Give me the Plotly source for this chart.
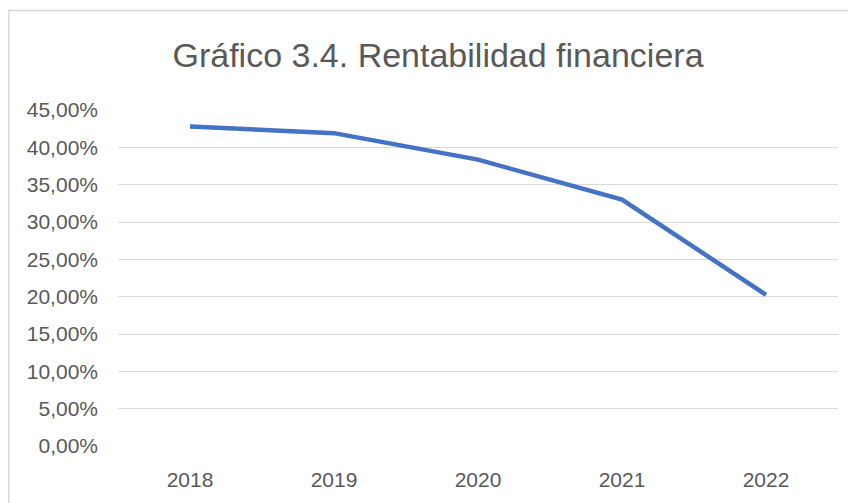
import plotly.graph_objects as go

years = ["2018", "2019", "2020", "2021", "2022"]
rentabilidad = [0.4280, 0.4190, 0.3835, 0.3300, 0.2025]
y_ticks = [0, 0.05, 0.10, 0.15, 0.20, 0.25, 0.30, 0.35, 0.40, 0.45]
title_text = "Gráfico 3.4. Rentabilidad financiera"

# page has an 8px body margin, so the figure is drawn 8px smaller
W, H = 848, 495
L, R, T, B = 110, 18, 102, 55

fig = go.Figure()
fig.add_trace(go.Scatter(
    x=years, y=rentabilidad, mode="lines",
    line=dict(color="#4472C4", width=4.5),
    hoverinfo="skip", showlegend=False,
))

txt = "#595959"
font_family = "Liberation Sans, Arial, sans-serif"

fig.update_layout(
    width=W, height=H,
    margin=dict(l=L, r=R, t=T, b=B),
    paper_bgcolor="white", plot_bgcolor="white",
    separators=",.",
    title=dict(text=title_text, x=430 / W, xanchor="center",
               y=1 - 47 / H, yanchor="middle",
               font=dict(family=font_family, size=34, color=txt)),
    xaxis=dict(type="category", range=[-0.5, 4.5], showgrid=False,
               showline=False, zeroline=False, ticks="",
               ticklabelstandoff=19,
               tickfont=dict(family=font_family, size=21, color=txt)),
    yaxis=dict(range=[0, 0.45], tickvals=y_ticks, tickformat=".2%",
               showgrid=True, gridcolor="#d9d9d9", gridwidth=1,
               zeroline=False, showline=False, ticks="",
               ticklabelstandoff=19,
               tickfont=dict(family=font_family, size=21, color=txt)),
)

pw, ph = W - L - R, H - T - B
fig.add_shape(type="rect", xref="paper", yref="paper",
              x0=(0.75 - L) / pw, x1=(W + 10 - L) / pw,
              y0=-(H + 10 - (T + ph)) / ph, y1=(T + ph - 2) / ph,
              line=dict(color="#d9d9d9", width=1.5), layer="below")

fig.write_html("out.html")
